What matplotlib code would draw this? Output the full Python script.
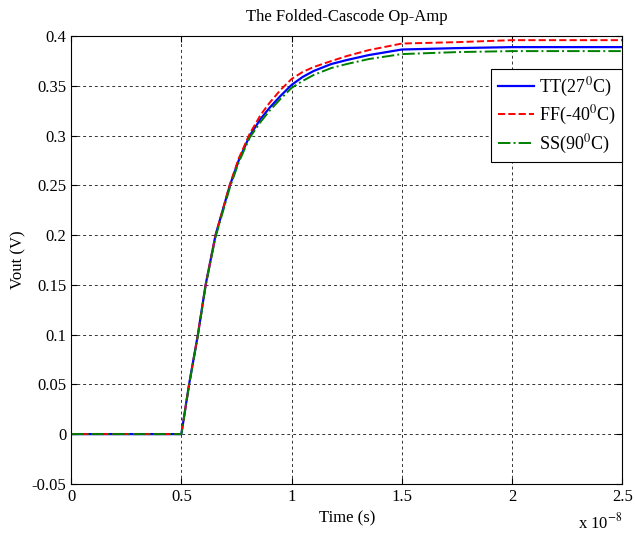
import matplotlib.pyplot as plt
import numpy as np

plt.rcParams['font.family'] = 'Liberation Serif'
plt.rcParams['mathtext.fontset'] = 'stix'

# time in units of 1e-8 s
t = [0, 0.5, 0.535, 0.575, 0.61, 0.655, 0.72, 0.76, 0.81, 0.86, 0.9, 0.95,
     1.0, 1.05, 1.1, 1.18, 1.25, 1.35, 1.5, 1.75, 2.0, 2.25, 2.5]
tt = [0, 0, 0.05, 0.1, 0.15, 0.2, 0.25, 0.275, 0.3, 0.317, 0.328, 0.340,
      0.351, 0.359, 0.365, 0.372, 0.376, 0.381, 0.3866, 0.388, 0.389, 0.389,
      0.389]
ff = [0, 0, 0.05, 0.1, 0.15, 0.2, 0.251, 0.277, 0.302, 0.321, 0.333, 0.346,
      0.357, 0.364, 0.369, 0.375, 0.380, 0.386, 0.3926, 0.394, 0.396, 0.396,
      0.396]
ss = [0, 0, 0.049, 0.099, 0.149, 0.198, 0.248, 0.273, 0.298, 0.314, 0.325,
      0.337, 0.348, 0.355, 0.361, 0.368, 0.372, 0.377, 0.382, 0.384, 0.385,
      0.385, 0.385]

labels = [r'TT(27$^0$C)', r'FF(-40$^0$C)', r'SS(90$^0$C)']

fig = plt.figure(figsize=(6.35, 5.4), dpi=100)
ax = fig.add_axes([0.112, 0.104, 0.868, 0.829])

ax.plot(t, tt, color='blue', lw=1.6, ls='-', label=labels[0])
ax.plot(t, ff, color='red', lw=1.4, ls='--', label=labels[1])
ax.plot(t, ss, color='green', lw=1.4, ls='-.', label=labels[2])

ax.set_xlim(0, 2.5)
ax.set_ylim(-0.05, 0.4)
ax.set_xticks(np.arange(0, 2.51, 0.5))
ax.set_xticklabels(['0', '0.5', '1', '1.5', '2', '2.5'])
ax.set_yticks(np.arange(-0.05, 0.401, 0.05))
ax.set_yticklabels(['-0.05', '0', '0.05', '0.1', '0.15', '0.2', '0.25',
                    '0.3', '0.35', '0.4'])
ax.tick_params(direction='in', top=True, right=True, labelsize=12, length=4)
ax.grid(True, color='#333333', ls=(0, (3, 3)), lw=0.7)

ax.set_title('The Folded-Cascode Op-Amp', fontsize=12, pad=11)
ax.set_xlabel('Time (s)', fontsize=12)
ax.set_ylabel('Vout (V)', fontsize=12)
ax.text(1.0, -0.1, r'x 10$^{-8}$', transform=ax.transAxes, fontsize=12,
        va='baseline', ha='right')

leg = ax.legend(loc='upper right', bbox_to_anchor=(1.0, 0.926),
                borderaxespad=0, fontsize=13, fancybox=False, framealpha=1,
                edgecolor='black', handlelength=2.0, handletextpad=0.3,
                labelspacing=0.3, borderpad=0.35)
leg.get_frame().set_linewidth(0.8)

fig.savefig('out.png', dpi=100)
